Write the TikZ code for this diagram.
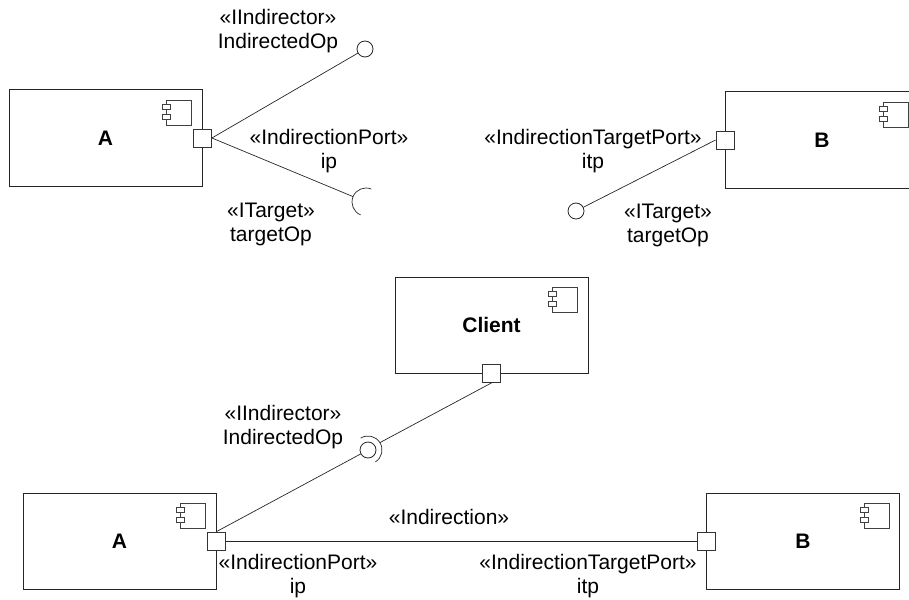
\documentclass[tikz,border=0pt]{standalone}
\usepackage{fontspec}
\setmainfont{Liberation Sans}
\usetikzlibrary{calc}

\begin{document}
\begin{tikzpicture}[x=1pt, y=-1pt]
        % ================= 样式定义 =================
        \tikzset{
            % 组件方框 (粗体名称)
            comp/.style={rectangle, draw=black!85, line width=1pt, fill=white, minimum width=193pt, minimum height=96pt, inner sep=0pt, font=\fontsize{21}{24}\selectfont\bfseries},
            % 端口小方块
            port/.style={rectangle, draw=black!80, line width=0.8pt, fill=white, minimum size=18pt, inner sep=0pt},
            % 提供接口 (圆球)
            ball/.style={circle, draw=black!85, line width=0.8pt, fill=white, minimum size=16pt, inner sep=0pt},
            % 构造型标注
            lbl/.style={align=center, font=\fontsize{21}{24}\selectfont, inner sep=0pt},
            wire/.style={line width=0.7pt, black!85},
            % 组件图标
            icon/.pic={
                \draw[line width=0.6pt, black!75] (-36,11) rectangle (-11,36);
                \draw[line width=0.6pt, black!75, fill=white] (-40,15) rectangle (-32,20);
                \draw[line width=0.6pt, black!75, fill=white] (-40,25) rectangle (-32,30);
            }
        }
        \useasboundingbox (0,0) rectangle (909,599);

        \def\R{14}

        % ================= 上左: A 与端口 ip =================
        \node[comp] (A1) at (105.5,138) {A};
        \pic at (A1.north east) {icon};
        \node[port] (pA1) at (A1.east) {};
        \node[ball] (lpA1) at (365,49) {};
        \coordinate (skA1) at (366,202);
        \coordinate (skA1b) at ($(skA1)+(202.6:\R)$);

        \draw[wire] (pA1.east) -- (lpA1);
        \draw[wire] (pA1.east) -- (skA1b);
        \draw[wire] (skA1) ++(112.6:\R) arc[start angle=112.6, end angle=292.6, radius=\R];

        \node[lbl] (tIndA1) at (278,31.5) {«IIndirector»\\IndirectedOp};
        \node[lbl] (tPortA1) at (329,151.5) {«IndirectionPort»\\ip};
        \node[lbl] (tTgtA1) at (271,224.5) {«ITarget»\\targetOp};

        % ================= 上右: B 与端口 itp =================
        \node[comp] (B1) at (822,140) {B};
        \pic at (B1.north east) {icon};
        \node[port] (pB1) at (B1.west) {};
        \node[ball] (lpB1) at (576,211) {};

        \draw[wire] (pB1.west) -- (lpB1);

        \node[lbl] (tPortB1) at (593,151.5) {«IndirectionTargetPort»\\itp};
        \node[lbl] (tTgtB1) at (668,225) {«ITarget»\\targetOp};

        % ================= 下方: Client, A, B 装配 =================
        \node[comp] (C) at (491.5,325) {Client};
        \pic at (C.north east) {icon};
        \node[port] (pC) at (C.south) {};

        \node[comp] (A2) at (119.5,541) {A};
        \pic at (A2.north east) {icon};
        \node[port] (pA2) at (A2.east) {};

        \node[comp] (B2) at (803,541) {B};
        \pic at (B2.north east) {icon};
        \node[port] (pB2) at (B2.west) {};

        % 球-窝连接
        \node[ball] (lpA2) at (368,450) {};
        \coordinate (skC) at ($(lpA2.center)+(-31.8:\R)$);
        \draw[wire] (pA2.north) -- (lpA2);
        \draw[wire] (pC.south) -- (skC);
        \draw[wire] (lpA2.center) ++(-121.8:\R) arc[start angle=-121.8, end angle=58.2, radius=\R];

        % 直连
        \draw[wire] (pA2.east) -- (pB2.west);

        \node[lbl] (tIndC) at (283,427) {«IIndirector»\\IndirectedOp};
        \node[lbl] (tInd) at (449,517) {«Indirection»};
        \node[lbl] (tPortA2) at (298,576) {«IndirectionPort»\\ip};
        \node[lbl] (tPortB2) at (588,576) {«IndirectionTargetPort»\\itp};

    \end{tikzpicture}
\end{document}
